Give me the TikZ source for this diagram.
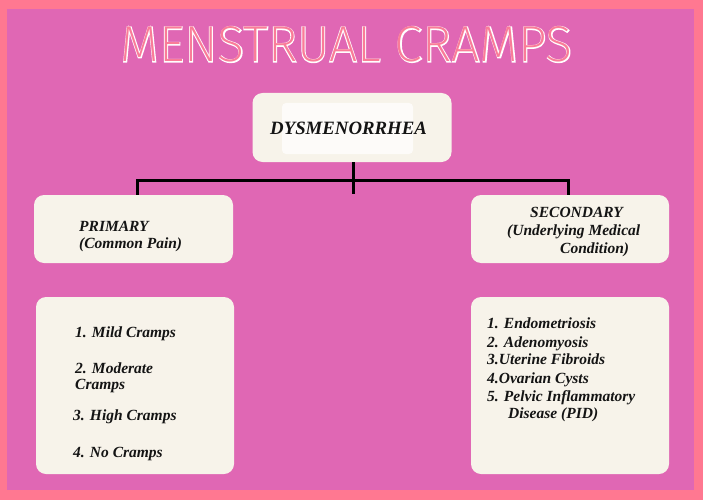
\documentclass[tikz,border=0pt]{standalone}
\usepackage{fontspec}
\usepackage{graphicx}
\setmainfont{Liberation Serif}
\newfontfamily\titlefont{Fira Sans}[UprightFont={* ExtraLight}]
\newfontfamily\titlehalo{Fira Sans}[UprightFont={* ExtraLight},FakeBold=3.5]
\definecolor{outerpink}{HTML}{FF7891}
\definecolor{magentabg}{HTML}{E067B4}
\definecolor{cream}{HTML}{F7F3EA}
\definecolor{titlepink}{HTML}{FA7C98}
\definecolor{ink}{HTML}{141414}
\tikzset{
  card/.style={draw=none, fill=cream, rounded corners=10pt, inner sep=0pt},
  txt/.style={anchor=base west, inner sep=0pt, text=ink,
    font=\fontsize{15.5}{18}\selectfont\bfseries\itshape},
  bigtxt/.style={txt, font=\fontsize{18.8}{21}\selectfont\bfseries\itshape},
  link/.style={draw=black, line width=3pt},
}
\begin{document}
\begin{tikzpicture}[x=1pt,y=-1pt]
\useasboundingbox (0,0) rectangle (703,500);
\fill[outerpink] (0,0) rectangle (703,500);
\fill[magentabg] (7,9) rectangle (694,490);
% title
\node[inner sep=0pt] (titleh) at (346.5,44.5) {\resizebox{452pt}{35pt}{\titlehalo\color{white}MENSTRUAL CRAMPS}};
\node[inner sep=0pt] (title) at (346.5,44.5) {\resizebox{452pt}{35pt}{\titlefont\color{titlepink}MENSTRUAL CRAMPS}};
% cards
\node[card, minimum width=199pt, minimum height=69pt] (dys) at (352,127.5) {};
\fill[white!70!cream, rounded corners=4pt] (282,103) rectangle (413,154);
\node[card, minimum width=199pt, minimum height=68pt] (prim) at (133.5,229) {};
\node[card, minimum width=198pt, minimum height=68pt] (sec) at (570,229) {};
\node[card, minimum width=198pt, minimum height=177pt] (lista) at (135,385.5) {};
\node[card, minimum width=198pt, minimum height=177pt] (listb) at (570,385.5) {};
% connectors
\coordinate (hub) at (353,180);
\coordinate (tail) at (353,194);
\coordinate (hl) at (137,180);
\coordinate (hr) at (568,180);
\draw[link] (dys.south -| hub) -- (tail);
\draw[link] (hl |- prim.north) -- (hl) -- (hr) -- (hr |- sec.north);
% texts
\node[bigtxt] (tdys) at (270,134) {DYSMENORRHEA};
\node[txt] (tp1) at (79,231) {PRIMARY};
\node[txt] (tp2) at (79,248) {(Common Pain)};
\node[txt] (ts1) at (530,217) {SECONDARY};
\node[txt] (ts2) at (507,235) {(Underlying Medical};
\node[txt] (ts3) at (560,253) {Condition)};
\node[txt] (a1) at (75,337) {1. Mild Cramps};
\node[txt] (a2) at (75,373) {2. Moderate};
\node[txt] (a3) at (75,389) {Cramps};
\node[txt] (a4) at (73,420) {3. High Cramps};
\node[txt] (a5) at (73,457) {4. No Cramps};
\node[txt] (b1) at (487,328) {1. Endometriosis};
\node[txt] (b2) at (487,347) {2. Adenomyosis};
\node[txt] (b3) at (487,364) {3.Uterine Fibroids};
\node[txt] (b4) at (487,383) {4.Ovarian Cysts};
\node[txt] (b5) at (487,401) {5. Pelvic Inflammatory};
\node[txt] (b6) at (508,418) {Disease (PID)};
\end{tikzpicture}
\end{document}
